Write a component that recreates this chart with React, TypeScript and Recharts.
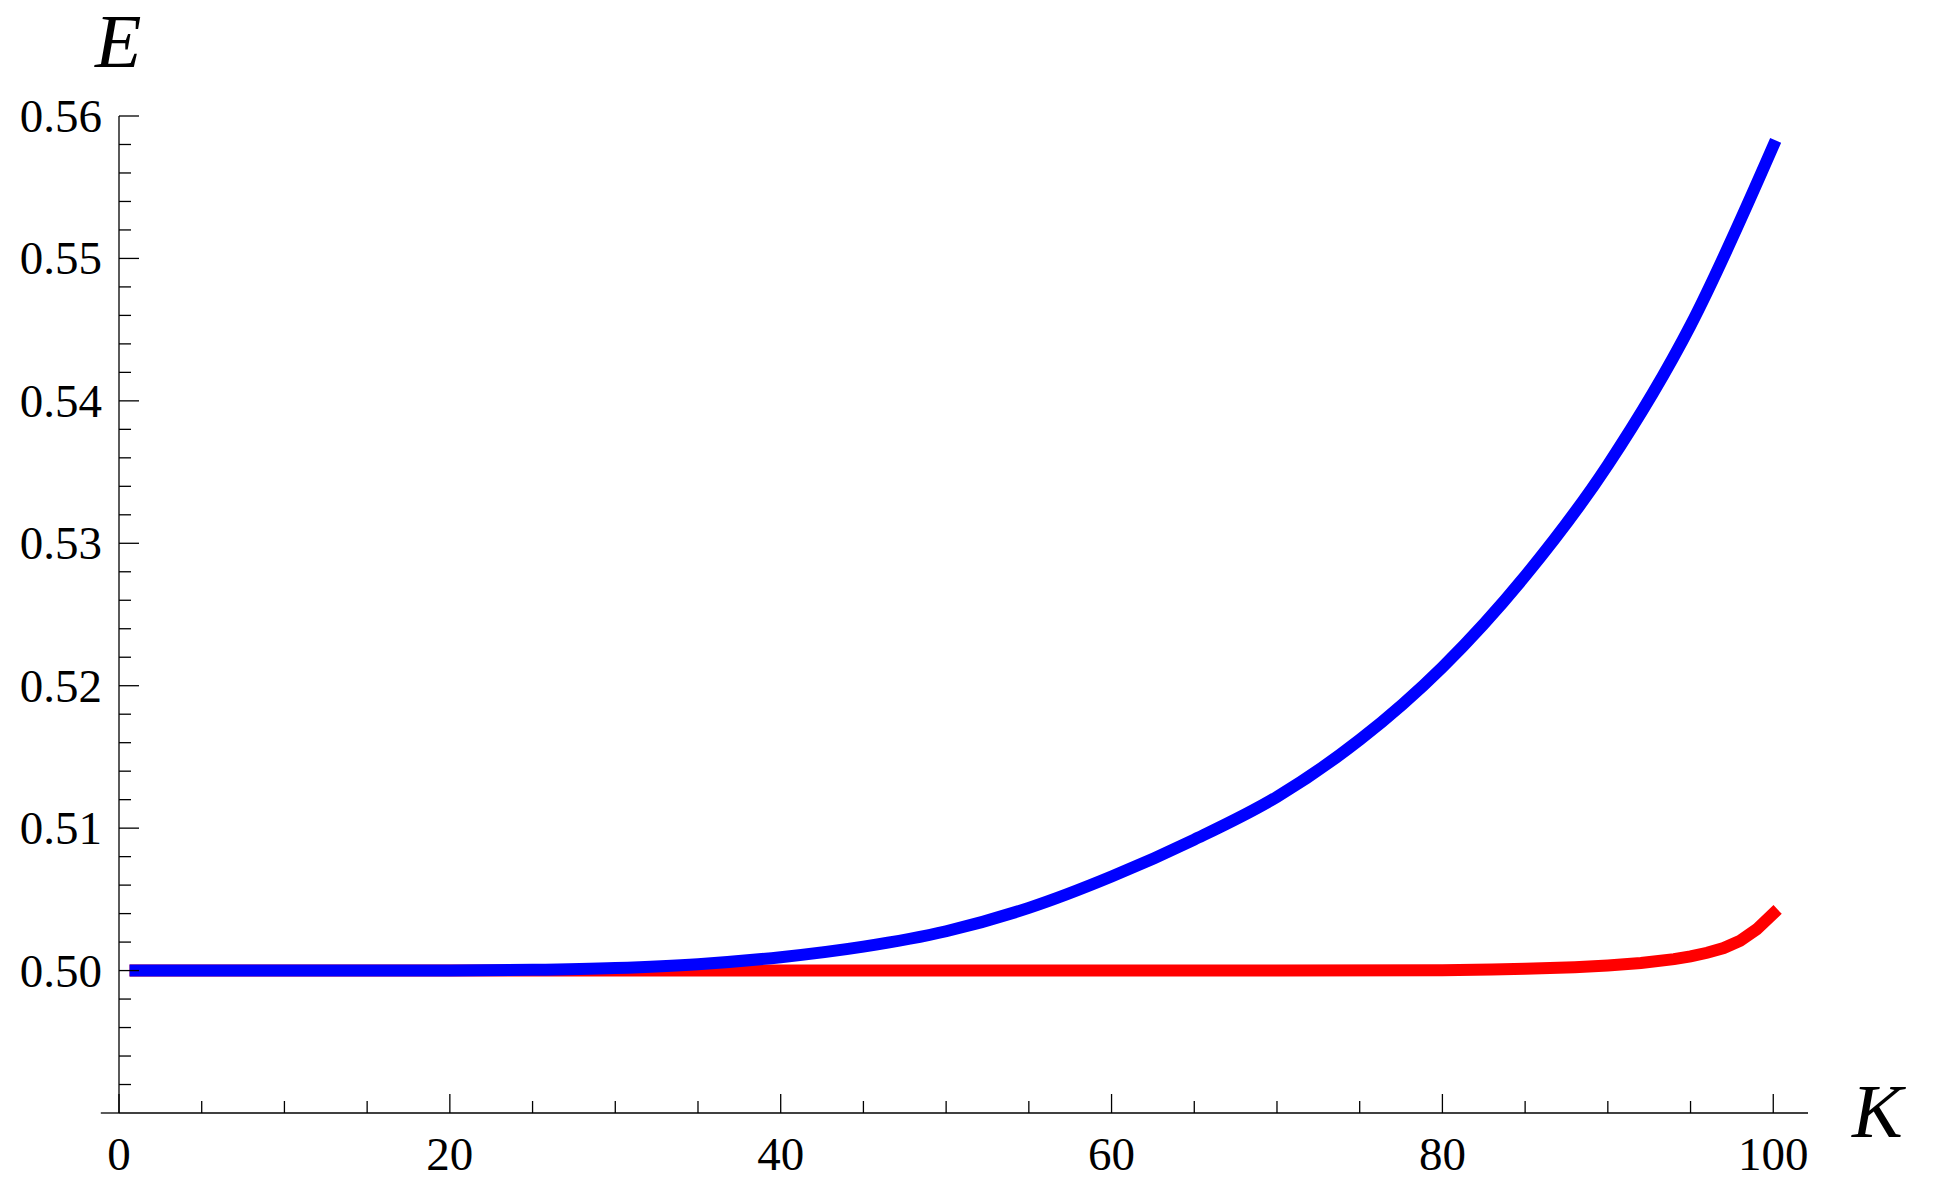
import React from "react";
import { LineChart, Line, XAxis, YAxis, ReferenceLine, Label } from "recharts";

// K values and energies
const blueK = [1, 5, 10, 15, 20, 25, 30, 35, 40, 45, 50, 55, 60, 65, 70, 75, 80, 85, 90, 95, 100];
const blueE = [
  0.5, 0.5, 0.5, 0.5, 0.5, 0.50005, 0.50018, 0.50045, 0.50094, 0.50168, 0.50276, 0.5044, 0.5066,
  0.5092, 0.5122, 0.5162, 0.5213, 0.5277, 0.5355, 0.5453, 0.5579,
];

const redK = [1, 10, 20, 30, 40, 50, 60, 70, 80, 83, 85, 88, 90, 92, 94, 95, 96, 97, 98, 99, 100];
const redE = [
  0.5, 0.5, 0.5, 0.5, 0.5, 0.5, 0.5, 0.5, 0.50002, 0.50007, 0.50013, 0.50024, 0.50036, 0.50053,
  0.5008, 0.501, 0.50125, 0.50158, 0.5021, 0.5029, 0.504,
];

const xTicks = [0, 5, 10, 15, 20, 25, 30, 35, 40, 45, 50, 55, 60, 65, 70, 75, 80, 85, 90, 95, 100];
const xLabels = [0, 20, 40, 60, 80, 100];

const yTicks = [
  0.492, 0.494, 0.496, 0.498, 0.5, 0.502, 0.504, 0.506, 0.508, 0.51, 0.512, 0.514, 0.516, 0.518,
  0.52, 0.522, 0.524, 0.526, 0.528, 0.53, 0.532, 0.534, 0.536, 0.538, 0.54, 0.542, 0.544, 0.546,
  0.548, 0.55, 0.552, 0.554, 0.556, 0.558, 0.56,
];
const yLabels = [0.5, 0.51, 0.52, 0.53, 0.54, 0.55, 0.56];

const blueData = blueK.map((k, i) => ({ k, e: blueE[i] }));
const redData = redK.map((k, i) => ({ k, e: redE[i] }));

const FONT = "'Liberation Serif', 'Times New Roman', serif";
const isIn = (list: number[], v: number) => list.some((m) => Math.abs(m - v) < 1e-9);

function XTick(props: any) {
  const { x, y, payload } = props;
  const major = isIn(xLabels, payload.value);
  return (
    <g>
      <line x1={x} x2={x} y1={y} y2={y - (major ? 19 : 12)} stroke="#000" strokeWidth={1.3} />
      {major && (
        <text x={x} y={y + 57} textAnchor="middle" fontFamily={FONT} fontSize={47} fill="#000">
          {payload.value}
        </text>
      )}
    </g>
  );
}

function YTick(props: any) {
  const { x, y, payload } = props;
  const major = isIn(yLabels, payload.value);
  return (
    <g>
      <line x1={x} x2={x + (major ? 20 : 12)} y1={y} y2={y} stroke="#000" strokeWidth={1.3} />
      {major && (
        <text x={x - 17} y={y + 16} textAnchor="end" fontFamily={FONT} fontSize={47} fill="#000">
          {payload.value.toFixed(2)}
        </text>
      )}
    </g>
  );
}

export default function App() {
  return (
    <div style={{ position: "absolute", left: 0, top: 0, background: "#fff" }}>
      <LineChart width={1934} height={1192} margin={{ top: 116, right: 126, bottom: 19, left: 19 }}>
        <XAxis
          type="number"
          dataKey="k"
          domain={[0, 102.1]}
          allowDataOverflow
          ticks={xTicks}
          interval={0}
          height={60}
          tickSize={0}
          tickMargin={0}
          tickLine={false}
          axisLine={{ stroke: "#000", strokeWidth: 1.3 }}
          tick={(p: any) => <XTick {...p} />}
        >
          <Label
            content={({ viewBox }: any) => (
              <text
                x={viewBox.x + viewBox.width + 44}
                y={viewBox.y + 24}
                fontFamily={FONT}
                fontStyle="italic"
                fontSize={76}
                fill="#000"
              >
                K
              </text>
            )}
          />
        </XAxis>
        <YAxis
          type="number"
          domain={[0.49, 0.56]}
          allowDataOverflow
          ticks={yTicks}
          interval={0}
          width={100}
          tickSize={0}
          tickMargin={0}
          tickLine={false}
          axisLine={{ stroke: "#000", strokeWidth: 1.3 }}
          tick={(p: any) => <YTick {...p} />}
        >
          <Label
            content={({ viewBox }: any) => (
              <text
                x={viewBox.x + 76}
                y={viewBox.y - 49}
                fontFamily={FONT}
                fontStyle="italic"
                fontSize={76}
                fill="#000"
              >
                E
              </text>
            )}
          />
        </YAxis>
        {/* x axis runs a little past the y axis on the left */}
        <ReferenceLine
          segment={[
            { x: -1.1, y: 0.49 },
            { x: 0, y: 0.49 },
          ]}
          ifOverflow="visible"
          stroke="#000"
          strokeWidth={1.3}
        />
        <Line
          data={redData}
          dataKey="e"
          type="linear"
          stroke="#ff0000"
          strokeWidth={12}
          strokeLinecap="square"
          dot={false}
          activeDot={false}
          isAnimationActive={false}
        />
        <Line
          data={blueData}
          dataKey="e"
          type="monotone"
          stroke="#0000ff"
          strokeWidth={12}
          strokeLinecap="square"
          dot={false}
          activeDot={false}
          isAnimationActive={false}
        />
      </LineChart>
    </div>
  );
}
